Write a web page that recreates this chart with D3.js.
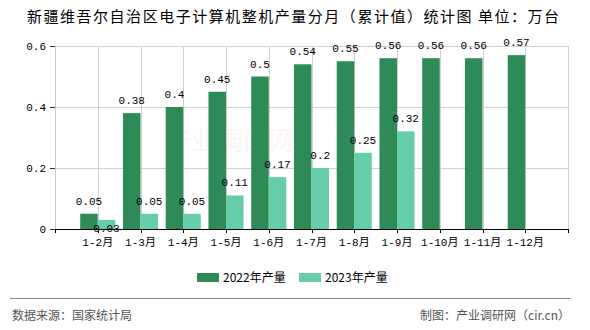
<!DOCTYPE html>
<html><head><meta charset="utf-8">
<script src="https://cdn.jsdelivr.net/npm/d3@7"></script>
<style>body{margin:0;background:#fff}svg{display:block}</style>
</head><body><svg id="c" width="590" height="330"></svg>
<script>
const categories = ["1-2月","1-3月","1-4月","1-5月","1-6月","1-7月","1-8月","1-9月","1-10月","1-11月","1-12月"];
const values2022 = [0.05,0.38,0.4,0.45,0.5,0.54,0.55,0.56,0.56,0.56,0.57];
const values2023 = [0.03,0.05,0.05,0.11,0.17,0.2,0.25,0.32,null,null,null];
const seriesNames = ["2022年产量","2023年产量"];
const colors = ["#2e8b57","#66cdaa"];
const yTicks = [0,0.2,0.4,0.6];
const title = "新疆维吾尔自治区电子计算机整机产量分月（累计值）统计图 单位：万台";
const sourceText = "数据来源：国家统计局";
const makerText = "制图：产业调研网（cir.cn）";

const svg = d3.select("#c");
const L = 55, R = 568, T = 46, B = 229;
const numFont = "'Liberation Mono','Noto Sans CJK SC',monospace";
const cjkFont = "'Noto Sans CJK SC','Noto Sans',sans-serif";

const x = d3.scalePoint().domain(categories).range([L, R]).padding(1);
const step = x.step();
const y = d3.scaleLinear().domain([0, 0.6]).range([B, T]);

// title
svg.append("text").attr("x", 293).attr("y", 22).attr("text-anchor", "middle")
  .attr("font-family", cjkFont).attr("font-size", 15).attr("fill", "#000")
  .attr("textLength", 532).attr("lengthAdjust", "spacing").text(title);

// watermark
svg.append("text").attr("x", 230).attr("y", 150).attr("text-anchor","middle")
  .attr("font-family", cjkFont).attr("font-size", 26).attr("fill", "#e53935").attr("opacity", 0.05)
  .text("产业调研网");

// grid
const g = svg.append("g");
g.selectAll(".hg").data(yTicks.filter(d => d > 0)).join("line")
  .attr("x1", L).attr("x2", R).attr("y1", d => y(d) + 0.5).attr("y2", d => y(d) + 0.5)
  .attr("stroke", "#d0d0d0");
const vPos = categories.map(c => x(c)).concat([R]);
g.selectAll(".vg").data(vPos).join("line")
  .attr("x1", d => Math.round(d) + 0.5).attr("x2", d => Math.round(d) + 0.5)
  .attr("y1", T).attr("y2", B).attr("stroke", "#d0d0d0");
// left axis line
g.append("line").attr("x1", L + 0.5).attr("x2", L + 0.5).attr("y1", T).attr("y2", B).attr("stroke", "#c8c8c8");

// y axis ticks/labels
const ya = svg.append("g");
ya.selectAll("line").data(yTicks).join("line")
  .attr("x1", L - 5).attr("x2", L).attr("y1", d => y(d) + 0.5).attr("y2", d => y(d) + 0.5)
  .attr("stroke", "#333");
ya.selectAll("text").data(yTicks).join("text")
  .attr("x", L - 9).attr("y", d => y(d)).attr("dy", "0.35em").attr("text-anchor", "end")
  .attr("font-family", numFont).attr("font-size", 11).attr("fill", "#000")
  .text(d => d === 0 ? "0" : d3.format(".1f")(d));

// bars
const bw = step * 0.41;
const series = [values2022, values2023];
const labels = [];
series.forEach((vals, si) => {
  const data = categories.map((c, i) => ({c, v: vals[i]})).filter(d => d.v != null);
  svg.append("g").selectAll("rect").data(data).join("rect")
    .attr("x", d => si === 0 ? x(d.c) - bw : x(d.c))
    .attr("width", bw)
    .attr("y", d => y(d.v)).attr("height", d => y(0) - y(d.v))
    .attr("fill", colors[si]);
  data.forEach(d => {
    const cx = si === 0 ? x(d.c) - bw / 2 : x(d.c) + bw / 2;
    labels.push({cx, y: y(d.v) - 9, v: d.v});
  });
});
// labels with simple overlap avoidance
const placed = [];
labels.forEach(l => {
  const w = String(l.v).length * 6.6;
  let box = {x0: l.cx - w / 2, x1: l.cx + w / 2, y0: l.y - 9, y1: l.y};
  const hit = placed.some(p => box.x0 < p.x1 && box.x1 > p.x0 && box.y0 < p.y1 && box.y1 > p.y0);
  if (hit) { l.y = y(0) + 3; box = {x0: box.x0, x1: box.x1, y0: l.y - 9, y1: l.y}; }
  placed.push(box);
  svg.append("text").attr("x", l.cx).attr("y", l.y).attr("text-anchor", "middle")
    .attr("font-family", numFont).attr("font-size", 11).attr("fill", "#000")
    .text(String(l.v));
});

// x axis
const xa = svg.append("g");
xa.append("line").attr("x1", L).attr("x2", R + 1).attr("y1", B + 0.5).attr("y2", B + 0.5).attr("stroke", "#000");
xa.selectAll(".xt").data([L].concat(vPos)).join("line")
  .attr("x1", d => Math.round(d) + 0.5).attr("x2", d => Math.round(d) + 0.5)
  .attr("y1", B).attr("y2", B + 4).attr("stroke", "#000");
xa.selectAll("text").data(categories).join("text")
  .attr("x", d => x(d)).attr("y", B + 17).attr("text-anchor", "middle")
  .attr("font-family", numFont).attr("font-size", 11).attr("fill", "#000")
  .text(d => d);

// legend
const lg = svg.append("g");
const lx = [197, 299];
seriesNames.forEach((n, i) => {
  lg.append("rect").attr("x", lx[i]).attr("y", 273).attr("width", 22).attr("height", 9).attr("fill", colors[i]);
  lg.append("text").attr("x", lx[i] + 26).attr("y", 277.5).attr("dy", "0.35em")
    .attr("font-family", cjkFont).attr("font-size", 12).attr("fill", "#000").text(n);
});

// footer
svg.append("line").attr("x1", 10).attr("x2", 571).attr("y1", 298.5).attr("y2", 298.5).attr("stroke", "#888");
svg.append("text").attr("x", 12).attr("y", 316).attr("dy", "0.35em")
  .attr("font-family", cjkFont).attr("font-size", 12).attr("fill", "#555").text(sourceText);
svg.append("text").attr("x", 570).attr("y", 316).attr("dy", "0.35em").attr("text-anchor", "end")
  .attr("font-family", cjkFont).attr("font-size", 12).attr("fill", "#555").text(makerText);
</script></body></html>
